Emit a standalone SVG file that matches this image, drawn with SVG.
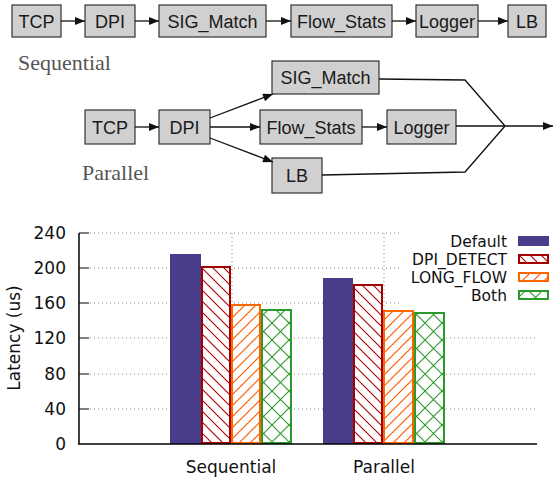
<svg xmlns="http://www.w3.org/2000/svg" width="558" height="481" viewBox="0 0 558 481">
<style>
.box{fill:#d0d0d0;stroke:#333;stroke-width:1.2}
.bt{font-family:"Liberation Sans",Arial,sans-serif;font-size:18px;fill:#1a1a1a;text-anchor:middle}
.lbl{font-family:"Liberation Serif","Times New Roman",serif;font-size:22px;fill:#555}
.con{fill:none;stroke:#111;stroke-width:1.3}
.grid{stroke:#888;stroke-width:1;stroke-dasharray:1,3}
.ax{font-family:"DejaVu Sans",sans-serif;font-size:17px;fill:#111}
.leg{font-family:"DejaVu Sans",sans-serif;font-size:15.5px;fill:#111;text-anchor:end}
</style>
<defs>
<marker id="ah" viewBox="0 0 10 8" refX="10" refY="4" markerWidth="11" markerHeight="8" markerUnits="userSpaceOnUse" orient="auto">
<path d="M0,0 L10,4 L0,8 z" fill="#111"/>
</marker>
<pattern id="hRed" patternUnits="userSpaceOnUse" width="11" height="11">
<rect width="11" height="11" fill="#fff"/>
<path d="M-1,-1 L12,12 M-6,5 L6,17 M5,-6 L17,6" stroke="#b00000" stroke-width="1.1"/>
</pattern>
<pattern id="hOrg" patternUnits="userSpaceOnUse" width="11" height="11">
<rect width="11" height="11" fill="#fff"/>
<path d="M-1,12 L12,-1 M-6,6 L6,-6 M5,17 L17,5" stroke="#ff5a00" stroke-width="1.2"/>
</pattern>
<pattern id="hGrn" patternUnits="userSpaceOnUse" width="17" height="17">
<rect width="17" height="17" fill="#fff"/>
<path d="M0,0 L17,17 M0,17 L17,0" stroke="#2a9a2a" stroke-width="1.1"/>
</pattern>
</defs>

<!-- Sequential chain -->
<g id="s_tcp"><rect class="box" x="12" y="5" width="49" height="32"/><text class="bt" x="36.5" y="27.5">TCP</text></g>
<g id="s_dpi"><rect class="box" x="85" y="5" width="50" height="32"/><text class="bt" x="110" y="27.5">DPI</text></g>
<g id="s_sig"><rect class="box" x="159" y="5" width="107" height="32"/><text class="bt" x="212.5" y="27.5">SIG_Match</text></g>
<g id="s_flow"><rect class="box" x="291" y="5" width="101" height="32"/><text class="bt" x="341.5" y="27.5">Flow_Stats</text></g>
<g id="s_log"><rect class="box" x="416" y="5" width="62" height="32"/><text class="bt" x="447" y="27.5">Logger</text></g>
<g id="s_lb"><rect class="box" x="508" y="5" width="38" height="32"/><text class="bt" x="527" y="27.5">LB</text></g>
<text class="lbl" x="18" y="70">Sequential</text>

<!-- Parallel graph -->
<g id="p_tcp"><rect class="box" x="85" y="110" width="50" height="34"/><text class="bt" x="110" y="133.5">TCP</text></g>
<g id="p_dpi"><rect class="box" x="159" y="110" width="51" height="34"/><text class="bt" x="184.5" y="133.5">DPI</text></g>
<g id="p_sig"><rect class="box" x="272" y="61" width="107" height="33"/><text class="bt" x="325.5" y="84">SIG_Match</text></g>
<g id="p_flow"><rect class="box" x="260" y="110" width="102" height="34"/><text class="bt" x="311" y="133.5">Flow_Stats</text></g>
<g id="p_log"><rect class="box" x="387" y="110" width="69" height="34"/><text class="bt" x="421.5" y="133.5">Logger</text></g>
<g id="p_lb"><rect class="box" x="272" y="158" width="50" height="35"/><text class="bt" x="297" y="182">LB</text></g>
<text class="lbl" x="82" y="180">Parallel</text>

<g id="connectors">
<line class="con" x1="61" y1="21" x2="85" y2="21" marker-end="url(#ah)"/>
<line class="con" x1="135" y1="21" x2="159" y2="21" marker-end="url(#ah)"/>
<line class="con" x1="266" y1="21" x2="291" y2="21" marker-end="url(#ah)"/>
<line class="con" x1="392" y1="21" x2="416" y2="21" marker-end="url(#ah)"/>
<line class="con" x1="478" y1="21" x2="508" y2="21" marker-end="url(#ah)"/>
<line class="con" x1="135" y1="127" x2="159" y2="127" marker-end="url(#ah)"/>
<line class="con" x1="210" y1="118" x2="273" y2="94" marker-end="url(#ah)"/>
<line class="con" x1="210" y1="127" x2="260" y2="127" marker-end="url(#ah)"/>
<line class="con" x1="210" y1="138" x2="273" y2="162" marker-end="url(#ah)"/>
<line class="con" x1="362" y1="127" x2="387" y2="127" marker-end="url(#ah)"/>
<polyline class="con" points="379,79 465,80 505,126"/>
<line class="con" x1="456" y1="126" x2="505" y2="126"/>
<polyline class="con" points="322,175 465,172 505,126"/>
<line class="con" x1="505" y1="126" x2="553" y2="126" marker-end="url(#ah)"/>
</g>

<!-- Chart -->
<g id="chart">
<g class="grid-lines">
<line class="grid" x1="90" y1="233" x2="537" y2="233"/>
<line class="grid" x1="90" y1="268" x2="537" y2="268"/>
<line class="grid" x1="90" y1="303" x2="537" y2="303"/>
<line class="grid" x1="90" y1="338" x2="537" y2="338"/>
<line class="grid" x1="90" y1="374" x2="537" y2="374"/>
<line class="grid" x1="90" y1="409" x2="537" y2="409"/>
<line class="grid" x1="232" y1="233" x2="232" y2="444"/>
<line class="grid" x1="384" y1="233" x2="384" y2="444"/>
</g>
<rect x="402" y="226" width="156" height="80" fill="#fff"/>

<rect x="170" y="254" width="31" height="190" fill="#483d8b"/>
<rect x="202" y="267" width="28" height="176" fill="url(#hRed)" stroke="#a40000" stroke-width="2"/>
<rect x="232" y="305" width="28" height="138" fill="url(#hOrg)" stroke="#ff6600" stroke-width="2"/>
<rect x="262" y="310" width="29" height="133" fill="url(#hGrn)" stroke="#2a9a2a" stroke-width="2"/>

<rect x="323" y="278" width="30" height="166" fill="#483d8b"/>
<rect x="354" y="285" width="28" height="158" fill="url(#hRed)" stroke="#a40000" stroke-width="2"/>
<rect x="384" y="311" width="29" height="132" fill="url(#hOrg)" stroke="#ff6600" stroke-width="2"/>
<rect x="415" y="313" width="29" height="130" fill="url(#hGrn)" stroke="#2a9a2a" stroke-width="2"/>

<line x1="79" y1="233" x2="79" y2="444" stroke="#000" stroke-width="1.5"/>
<line x1="78" y1="444" x2="537" y2="444" stroke="#000" stroke-width="1.5"/>
<g stroke="#000" stroke-width="1">
<line x1="79" y1="233" x2="89" y2="233"/><line x1="79" y1="268" x2="89" y2="268"/>
<line x1="79" y1="303" x2="89" y2="303"/><line x1="79" y1="338" x2="89" y2="338"/>
<line x1="79" y1="374" x2="89" y2="374"/><line x1="79" y1="409" x2="89" y2="409"/>
</g>
<g class="ax" text-anchor="end">
<text x="66" y="239">240</text><text x="66" y="274">200</text><text x="66" y="309">160</text>
<text x="66" y="344">120</text><text x="66" y="380">80</text><text x="66" y="415">40</text>
<text x="66" y="450">0</text>
</g>
<text class="ax" transform="translate(20,338) rotate(-90)" text-anchor="middle">Latency (us)</text>
<text class="ax" x="231" y="473" text-anchor="middle">Sequential</text>
<text class="ax" x="384" y="473" text-anchor="middle">Parallel</text>

<text class="leg" x="507" y="246.5">Default</text>
<text class="leg" x="507" y="264.5">DPI_DETECT</text>
<text class="leg" x="507" y="282.5">LONG_FLOW</text>
<text class="leg" x="507" y="300.5">Both</text>
<rect x="518" y="236" width="31" height="10" fill="#483d8b"/>
<rect x="519" y="255" width="29" height="8" fill="url(#hRed)" stroke="#a40000" stroke-width="2"/>
<rect x="519" y="273" width="29" height="8" fill="url(#hOrg)" stroke="#ff6600" stroke-width="2"/>
<rect x="519" y="291" width="29" height="8" fill="url(#hGrn)" stroke="#2a9a2a" stroke-width="2"/>
</g>
</svg>
